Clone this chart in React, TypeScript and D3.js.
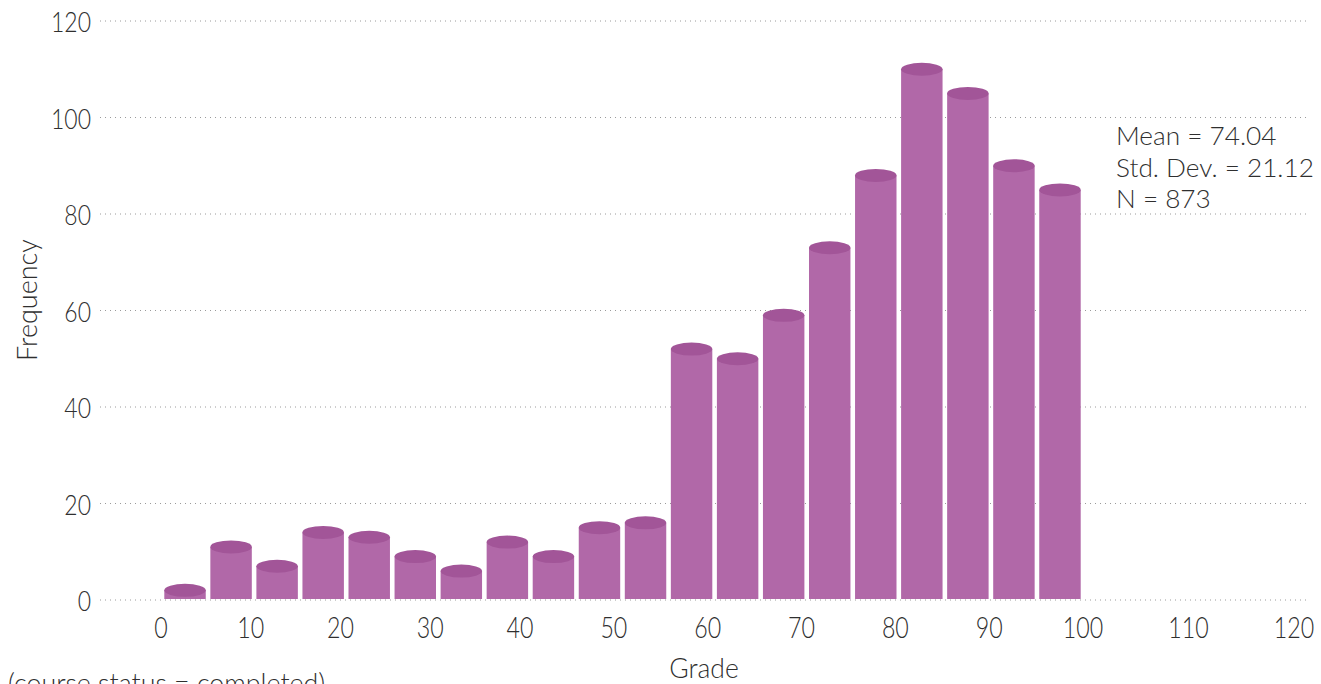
import React from "react";
import * as d3 from "d3";

const binStarts = [0, 5, 10, 15, 20, 25, 30, 35, 40, 45, 50, 55, 60, 65, 70, 75, 80, 85, 90, 95];
const frequencies = [2, 11, 7, 14, 13, 9, 6, 12, 9, 15, 16, 52, 50, 59, 73, 88, 110, 105, 90, 85];
const binWidth = 5;
const xTicks = [0, 10, 20, 30, 40, 50, 60, 70, 80, 90, 100, 110, 120];
const yTicks = [0, 20, 40, 60, 80, 100, 120];
const statsLines = ["Mean = 74.04", "Std. Dev. = 21.12", "N = 873"];
const xTitle = "Grade";
const yTitle = "Frequency";
const footnote = "(course status = completed)";

const W = 1321;
const H = 684;
const FONT = "Lato, 'Noto Sans', sans-serif";
const TXT = "#2f2f2f";

function T({ x, y, size, sx = 1, anchor = "start", rotate = 0, weight = 400, children }: any) {
  return (
    <text
      transform={`translate(${x},${y}) rotate(${rotate}) scale(${sx},1)`}
      fontSize={size}
      fontFamily={FONT}
      fontWeight={weight}
      fill={TXT}
      textAnchor={anchor}
    >
      {children}
    </text>
  );
}

export default function App() {
  const xBar = d3.scaleLinear().domain([0, 100]).range([162, 1083]);
  const xLab = d3.scaleLinear().domain([0, 40, 100, 120]).range([161, 520, 1083, 1294]);
  const y = d3.scaleLinear().domain([0, 120]).range([600, 21]);
  const gap = 4.6;
  const ry = 6.5;

  return (
    <svg
      width={W}
      height={H}
      style={{ position: "absolute", left: 0, top: 0, display: "block" }}
    >
      <rect x={0} y={0} width={W} height={H} fill="#ffffff" />
      {yTicks.map((t) => (
        <line
          key={"g" + t}
          x1={100}
          x2={1308}
          y1={y(t)}
          y2={y(t)}
          stroke="#9a9a9a"
          strokeWidth={1}
          strokeDasharray="1,4"
        />
      ))}
      {binStarts.map((b, i) => {
        const x0 = xBar(b) + gap / 2;
        const x1 = xBar(b + binWidth) - gap / 2;
        const w = x1 - x0;
        const top = y(frequencies[i]);
        return (
          <g key={"b" + i}>
            <rect x={x0} y={top} width={w} height={y(0) - 1 - top} fill="#b168a8" />
            <ellipse cx={(x0 + x1) / 2} cy={top} rx={w / 2} ry={ry} fill="#a25598" />
          </g>
        );
      })}
      {yTicks.map((t) => (
        <T key={"yl" + t} x={91} y={y(t) + 11} size={28} sx={0.82} anchor="end" weight={300}>
          {t}
        </T>
      ))}
      {xTicks.map((t) => (
        <T key={"xl" + t} x={xLab(t)} y={638} size={29} sx={0.8} anchor="middle" weight={300}>
          {t}
        </T>
      ))}
      {statsLines.map((s, i) => (
        <T key={"s" + i} x={1116} y={145 + i * 31.5} size={26.2} weight={300}>
          {s}
        </T>
      ))}
      <T x={704} y={678} size={26.5} anchor="middle" weight={300}>
        {xTitle}
      </T>
      <T x={37} y={300} size={27} anchor="middle" rotate={-90} weight={300}>
        {yTitle}
      </T>
      <T x={8} y={693} size={26.8} weight={300}>
        {footnote}
      </T>
    </svg>
  );
}
